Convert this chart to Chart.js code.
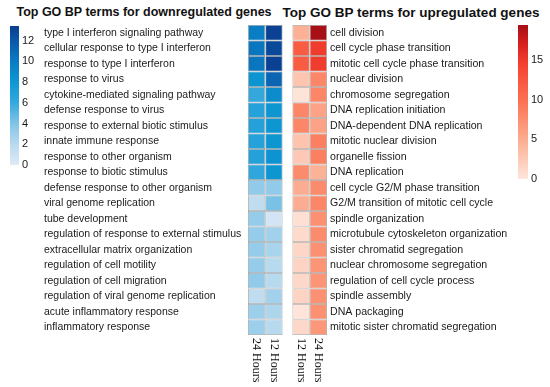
<!DOCTYPE html>
<html>
<head>
<meta charset="utf-8">
<script src="https://cdn.jsdelivr.net/npm/chart.js@4/dist/chart.umd.min.js"></script>
<style>
  body { margin: 0; background: #fff; }
  #wrap { position: relative; width: 550px; height: 387px; overflow: hidden; }
  canvas { position: absolute; }
  .title {
    position: absolute; top: 5px; transform: translateX(-50%);
    font-family: "Liberation Sans", Arial, sans-serif; font-weight: bold;
    color: #111; white-space: nowrap;
  }
</style>
</head>
<body>
<div id="wrap">
  <div class="title" style="left:144px; font-size:12.5px">Top GO BP terms for downregulated genes</div>
  <div class="title" style="left:411px; font-size:13.5px">Top GO BP terms for upregulated genes</div>
  <canvas id="heat" width="550" height="387" style="left:0;top:0"></canvas>
  <canvas id="barBlue" width="50" height="175" style="left:0;top:0"></canvas>
  <canvas id="barRed" width="50" height="190" style="left:500px;top:0"></canvas>
</div>
<script>
// GO terms (rows, top to bottom)
const downTerms = [
  'type I interferon signaling pathway', 'cellular response to type I interferon',
  'response to type I interferon', 'response to virus',
  'cytokine-mediated signaling pathway', 'defense response to virus',
  'response to external biotic stimulus', 'innate immune response',
  'response to other organism', 'response to biotic stimulus',
  'defense response to other organism', 'viral genome replication',
  'tube development', 'regulation of response to external stimulus',
  'extracellular matrix organization', 'regulation of cell motility',
  'regulation of cell migration', 'regulation of viral genome replication',
  'acute inflammatory response', 'inflammatory response'
];
const upTerms = [
  'cell division', 'cell cycle phase transition',
  'mitotic cell cycle phase transition', 'nuclear division',
  'chromosome segregation', 'DNA replication initiation',
  'DNA-dependent DNA replication', 'mitotic nuclear division',
  'organelle fission', 'DNA replication',
  'cell cycle G2/M phase transition', 'G2/M transition of mitotic cell cycle',
  'spindle organization', 'microtubule cytoskeleton organization',
  'sister chromatid segregation', 'nuclear chromosome segregation',
  'regulation of cell cycle process', 'spindle assembly',
  'DNA packaging', 'mitotic sister chromatid segregation'
];

// column names
const downHours = ['24 Hours', '12 Hours'];
const upHours = ['12 Hours', '24 Hours'];

// -log10 p values
const down24 = [9.8, 10.3, 10.3, 8.2, 6.0, 6.7, 6.8, 6.7, 6.8, 6.2, 3.4, 1.6, 3.3, 3.3, 3.3, 3.3, 3.4, 1.6, 3.0, 3.0];
const down12 = [13.2, 12.8, 13.2, 11.2, 8.8, 8.1, 8.1, 8.1, 8.3, 8.1, 3.4, 4.2, 0.6, 2.8, 2.6, 2.0, 2.0, 2.8, 2.4, 2.0];
const up12 = [4.6, 11.8, 11.8, 2.9, 0.3, 8.1, 8.1, 3.0, 2.5, 7.7, 5.0, 5.0, 0.6, 1.0, 1.4, 1.6, 1.3, 1.6, 0.2, 1.3];
const up24 = [19.3, 14.9, 14.9, 8.1, 8.1, 5.8, 5.8, 8.6, 8.6, 4.5, 7.7, 8.1, 7.3, 7.7, 7.3, 7.0, 7.0, 7.3, 7.3, 6.7];

// colour scale limits and legend ticks
const blueMax = 13.4;
const redMax = 19.4;
const blueTicks = [0, 2, 4, 6, 8, 10, 12];
const redTicks = [0, 5, 10, 15];

const blueStops = [[0, '#dfeaf6'], [0.15, '#b8daef'], [0.3, '#80c4e6'], [0.45, '#33a8dd'],
                   [0.6, '#0d97d3'], [0.75, '#0a7ac2'], [0.9, '#0a57a8'], [1, '#0a3d8f']];
const redStops = [[0, '#fee6dc'], [0.25, '#fcae92'], [0.5, '#fb7353'], [0.75, '#f4402f'],
                  [0.88, '#d5201f'], [1, '#a50f15']];

const textFont = { family: '"Liberation Sans", Arial, sans-serif', size: 10.5 };
const textColor = '#1a1a1a';

function hexRgb(h) {
  return [1, 3, 5].map(i => parseInt(h.slice(i, i + 2), 16));
}

// linear interpolation along the colour stops
function colourAt(stops, t) {
  t = Math.max(0, Math.min(1, t));
  for (let i = 1; i < stops.length; i++) {
    if (t <= stops[i][0]) {
      const [t0, c0] = stops[i - 1];
      const [t1, c1] = stops[i];
      const f = (t - t0) / (t1 - t0);
      const a = hexRgb(c0), b = hexRgb(c1);
      const m = a.map((v, k) => Math.round(v + (b[k] - v) * f));
      return `rgb(${m[0]},${m[1]},${m[2]})`;
    }
  }
  return stops[stops.length - 1][1];
}

// column spans on the x scale (blue block, gap, red block)
const colSpan = [[0, 1], [1, 2], [2.57, 3.57], [3.57, 4.57]];

const heatSets = [
  { vals: down24, span: colSpan[0], stops: blueStops, max: blueMax, label: downHours[0] },
  { vals: down12, span: colSpan[1], stops: blueStops, max: blueMax, label: downHours[1] },
  { vals: up12, span: colSpan[2], stops: redStops, max: redMax, label: upHours[0] },
  { vals: up24, span: colSpan[3], stops: redStops, max: redMax, label: upHours[1] }
];

// rotated column labels under the heatmap
const hourLabels = {
  id: 'hourLabels',
  afterDraw(chart) {
    const { ctx, chartArea, scales: { x } } = chart;
    ctx.save();
    ctx.font = '12px "Liberation Serif", "Times New Roman", serif';
    ctx.fillStyle = '#111';
    ctx.textAlign = 'left';
    ctx.textBaseline = 'middle';
    heatSets.forEach(s => {
      const cx = x.getPixelForValue((s.span[0] + s.span[1]) / 2);
      ctx.save();
      ctx.translate(cx, chartArea.bottom + 3);
      ctx.rotate(Math.PI / 2);
      ctx.fillText(s.label, 0, 0);
      ctx.restore();
    });
    ctx.restore();
  }
};

new Chart(document.getElementById('heat'), {
  type: 'bar',
  data: {
    labels: downTerms,
    datasets: heatSets.map(s => ({
      label: s.label,
      data: s.vals.map(() => s.span),
      backgroundColor: ctx => colourAt(s.stops, s.vals[ctx.dataIndex] / s.max),
      borderColor: '#a3a3a3',
      borderWidth: 0.8,
      borderSkipped: false,
      inflateAmount: 0,
      grouped: false,
      barPercentage: 1,
      categoryPercentage: 1
    }))
  },
  options: {
    indexAxis: 'y',
    responsive: false,
    animation: false,
    layout: { padding: { left: 44, top: 25, bottom: 52, right: 0 } },
    plugins: { legend: { display: false }, tooltip: { enabled: false } },
    scales: {
      x: { type: 'linear', min: 0, max: 4.57, display: false },
      y: {
        type: 'category', labels: downTerms, position: 'left', offset: true,
        grid: { display: false, drawTicks: false }, border: { display: false },
        ticks: { crossAlign: 'far', padding: 0, autoSkip: false, font: textFont, color: textColor },
        afterFit: s => { s.width = 204; }
      },
      y2: {
        type: 'category', labels: upTerms, position: 'right', offset: true,
        grid: { display: false, drawTicks: false }, border: { display: false },
        ticks: { padding: 3, autoSkip: false, font: { ...textFont, size: 10.6 }, color: textColor },
        afterFit: s => { s.width = 223; }
      }
    }
  },
  plugins: [hourLabels]
});

// colour legend bars
function makeColourBar(id, stops, max, tickVals, pad, axisWidth) {
  new Chart(document.getElementById(id), {
    type: 'bar',
    data: {
      labels: [''],
      datasets: [{
        data: [max],
        backgroundColor: ctx => {
          const a = ctx.chart.chartArea;
          if (!a) return stops[0][1];
          const g = ctx.chart.ctx.createLinearGradient(0, a.bottom, 0, a.top);
          stops.forEach(([t, c]) => g.addColorStop(t, c));
          return g;
        },
        borderWidth: 0,
        barPercentage: 1,
        categoryPercentage: 1
      }]
    },
    options: {
      responsive: false,
      animation: false,
      layout: { padding: pad },
      plugins: { legend: { display: false }, tooltip: { enabled: false } },
      scales: {
        x: { display: false },
        y: {
          position: 'right', min: 0, max: max,
          grid: { display: false, drawTicks: false }, border: { display: false },
          ticks: { padding: 3, includeBounds: false, font: { ...textFont, size: 11 }, color: textColor },
          afterBuildTicks: s => { s.ticks = tickVals.map(v => ({ value: v })); },
          afterFit: s => { s.width = axisWidth; }
        }
      }
    }
  });
}

makeColourBar('barBlue', blueStops, blueMax, blueTicks, { left: 10, top: 26, bottom: 10, right: 0 }, 31);
makeColourBar('barRed', redStops, redMax, redTicks, { left: 18, top: 25, bottom: 11, right: 0 }, 22);
</script>
</body>
</html>
